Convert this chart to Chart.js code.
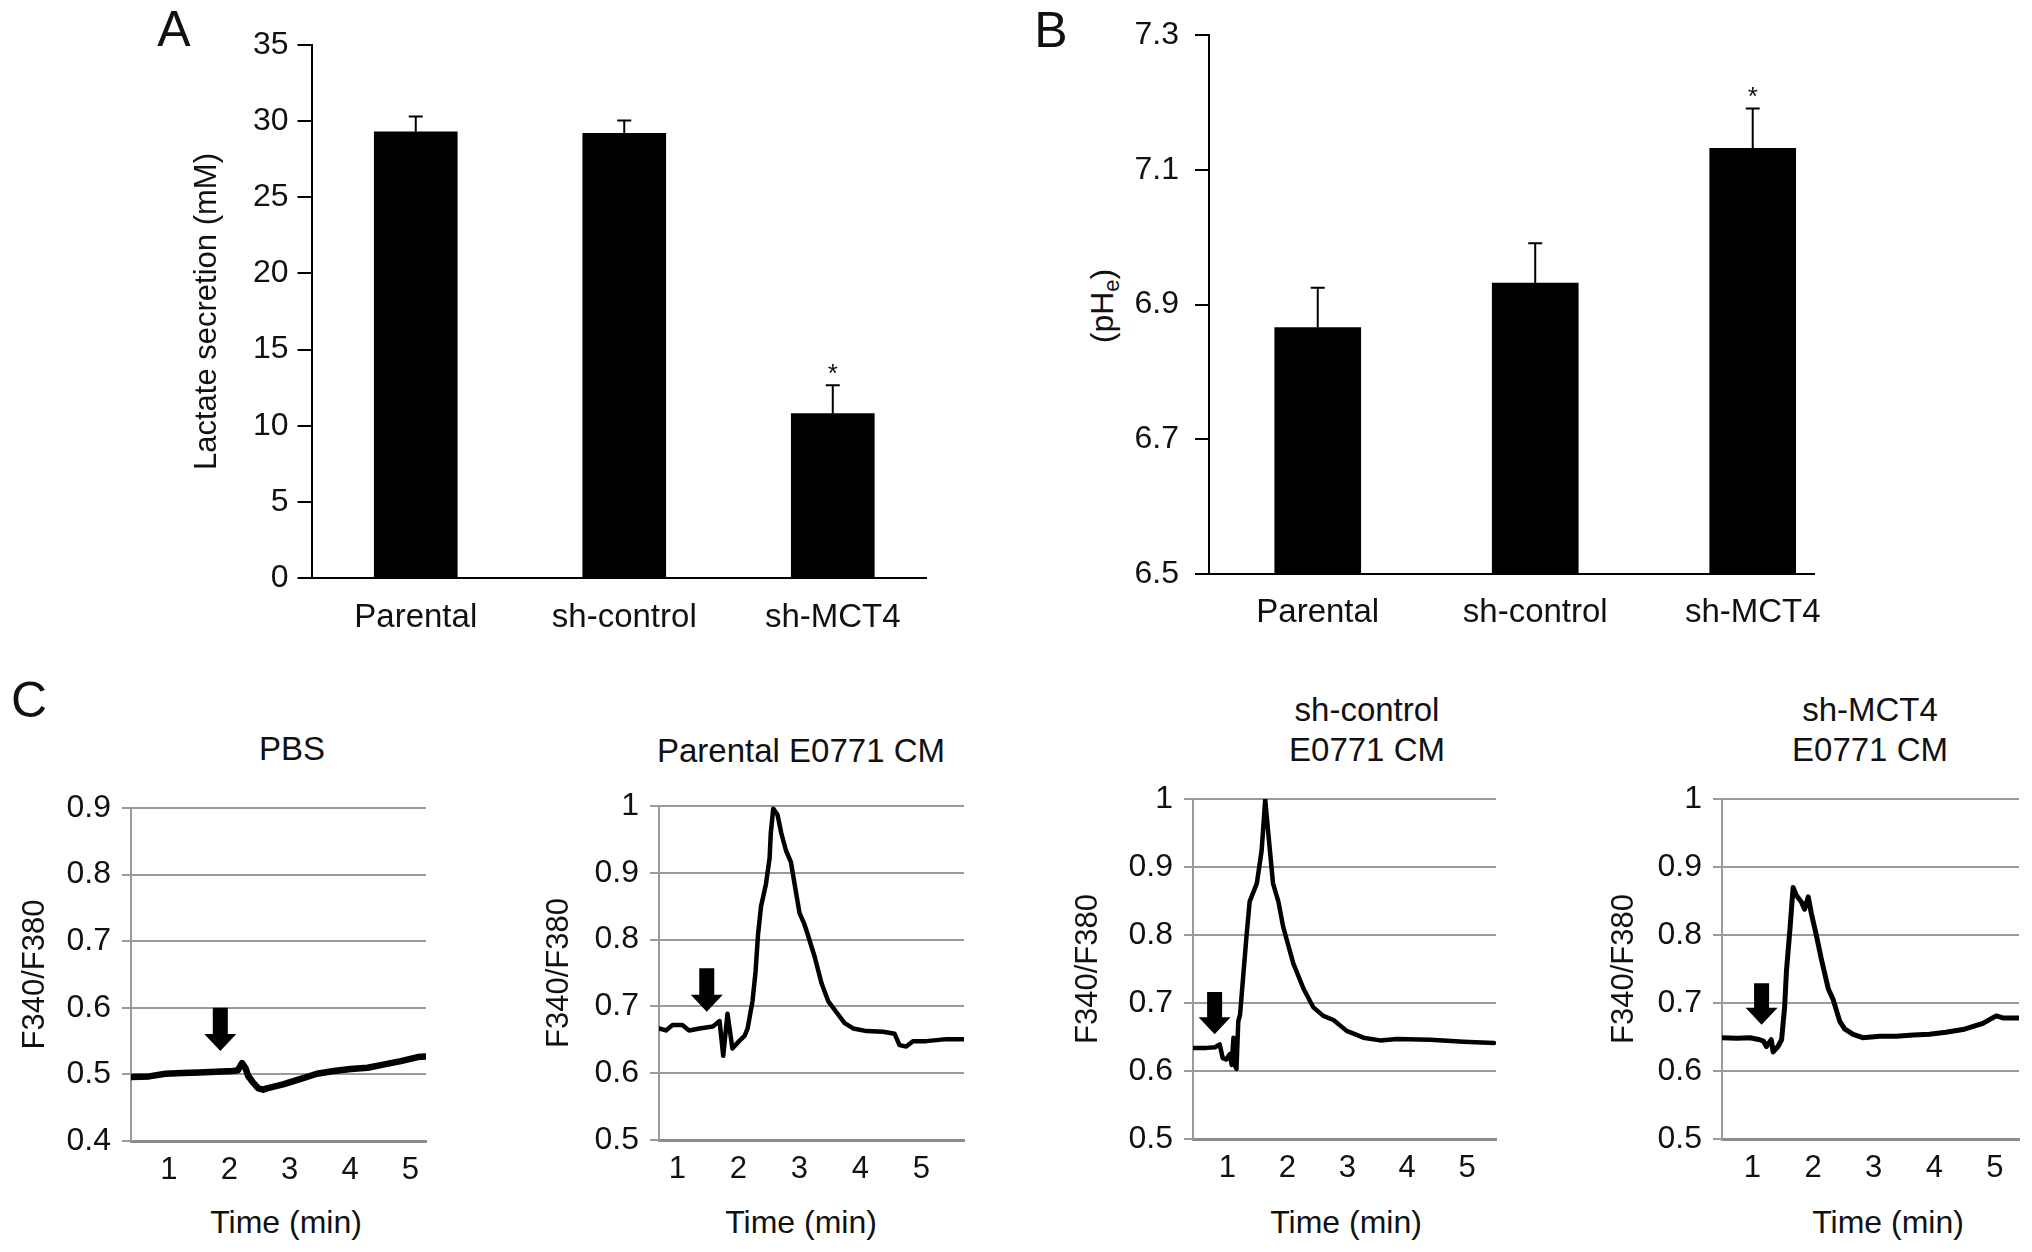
<!DOCTYPE html>
<html>
<head>
<meta charset="utf-8">
<script src="https://cdn.jsdelivr.net/npm/chart.js@4.4.0/dist/chart.umd.min.js"></script>
<style>
html,body{margin:0;padding:0;background:#fff;}
#page{position:relative;width:2032px;height:1252px;overflow:hidden;background:#fff;font-family:"Liberation Sans",Arial,Helvetica,sans-serif;color:#111;}
#page canvas{position:absolute;left:0;top:0;}
.lbl{position:absolute;transform:translate(-50%,-50%);white-space:nowrap;line-height:1;}
.panel{font-size:50px;}
.ttl{font-size:33px;}
.xt{font-size:32px;}
.rot{transform:translate(-50%,-50%) rotate(-90deg);font-size:32px;}
.rot sub{font-size:22px;vertical-align:-6px;}
</style>
</head>
<body>
<div id="page">
  <div class="lbl panel" style="left:174px;top:29px;">A</div>
  <div class="lbl panel" style="left:1051px;top:30px;">B</div>
  <div class="lbl panel" style="left:29px;top:700px;">C</div>
  <div class="lbl rot" style="left:1104px;top:306px;">(pH<sub>e</sub>)</div>
  <div class="lbl ttl" style="left:292px;top:748px;">PBS</div>
  <div class="lbl ttl" style="left:801px;top:750px;">Parental E0771 CM</div>
  <div class="lbl ttl" style="left:1367px;top:709px;">sh-control</div>
  <div class="lbl ttl" style="left:1367px;top:749px;">E0771 CM</div>
  <div class="lbl ttl" style="left:1870px;top:709px;">sh-MCT4</div>
  <div class="lbl ttl" style="left:1870px;top:749px;">E0771 CM</div>
  <div class="lbl xt" style="left:286px;top:1222px;">Time (min)</div>
  <div class="lbl xt" style="left:801px;top:1222px;">Time (min)</div>
  <div class="lbl xt" style="left:1346px;top:1222px;">Time (min)</div>
  <div class="lbl xt" style="left:1888px;top:1222px;">Time (min)</div>
</div>
<script>
// ---------------- DATA ----------------
const groups = ['Parental', 'sh-control', 'sh-MCT4'];
const lactateMean = [29.3, 29.2, 10.8];
const lactateErr = [1.0, 0.85, 1.85];
const lactateTicks = [0, 5, 10, 15, 20, 25, 30, 35];
const pheMean = [6.866, 6.932, 7.132];
const pheErr = [0.059, 0.059, 0.059];
const pheTicks = [6.5, 6.7, 6.9, 7.1, 7.3];
const significance = ['', '', '*'];

const timeTicks = [1, 2, 3, 4, 5];
const pbsTicks = [0.4, 0.5, 0.6, 0.7, 0.8, 0.9];
const cmTicks = [0.5, 0.6, 0.7, 0.8, 0.9, 1];

const pbsTime = [0.37, 0.67, 0.94, 1.22, 1.50, 1.78, 2.06, 2.14, 2.21, 2.27, 2.31, 2.39, 2.48, 2.56, 2.62, 2.89, 3.17, 3.45, 3.73, 4.01, 4.29, 4.57, 4.84, 5.12, 5.25];
const pbsRatio = [0.496, 0.497, 0.501, 0.502, 0.503, 0.504, 0.505, 0.506, 0.517, 0.509, 0.498, 0.488, 0.479, 0.477, 0.479, 0.485, 0.493, 0.501, 0.505, 0.508, 0.510, 0.515, 0.520, 0.526, 0.527];

const parentalTime = [0.70, 0.81, 0.92, 1.08, 1.19, 1.36, 1.58, 1.69, 1.75, 1.82, 1.90, 2.01, 2.10, 2.15, 2.23, 2.28, 2.32, 2.37, 2.45, 2.51, 2.53, 2.57, 2.64, 2.70, 2.78, 2.86, 2.92, 3.00, 3.08, 3.12, 3.25, 3.36, 3.47, 3.60, 3.74, 3.88, 4.10, 4.37, 4.56, 4.64, 4.75, 4.86, 5.08, 5.41, 5.69];
const parentalRatio = [0.667, 0.664, 0.672, 0.672, 0.664, 0.667, 0.670, 0.678, 0.626, 0.689, 0.637, 0.648, 0.656, 0.667, 0.708, 0.752, 0.807, 0.850, 0.883, 0.922, 0.960, 0.996, 0.987, 0.960, 0.933, 0.916, 0.883, 0.840, 0.823, 0.812, 0.774, 0.735, 0.708, 0.692, 0.675, 0.667, 0.663, 0.662, 0.659, 0.642, 0.640, 0.648, 0.648, 0.651, 0.651];

const shControlTime = [0.43, 0.65, 0.79, 0.87, 0.92, 0.98, 1.04, 1.07, 1.10, 1.12, 1.15, 1.18, 1.21, 1.26, 1.32, 1.37, 1.49, 1.57, 1.63, 1.68, 1.76, 1.85, 1.93, 2.10, 2.27, 2.43, 2.60, 2.77, 2.99, 3.27, 3.55, 3.83, 4.39, 4.94, 5.45];
const shControlRatio = [0.634, 0.634, 0.635, 0.639, 0.619, 0.617, 0.625, 0.609, 0.649, 0.609, 0.603, 0.673, 0.683, 0.737, 0.801, 0.849, 0.876, 0.924, 0.999, 0.951, 0.876, 0.849, 0.812, 0.758, 0.721, 0.694, 0.681, 0.675, 0.659, 0.649, 0.645, 0.647, 0.646, 0.643, 0.641];

const shMCT4Time = [0.50, 0.74, 0.96, 1.12, 1.18, 1.23, 1.31, 1.34, 1.42, 1.48, 1.53, 1.56, 1.62, 1.67, 1.72, 1.81, 1.86, 1.92, 1.97, 2.05, 2.14, 2.25, 2.33, 2.44, 2.52, 2.66, 2.82, 3.10, 3.37, 3.65, 3.92, 4.19, 4.47, 4.80, 5.02, 5.13, 5.39];
const shMCT4Ratio = [0.649, 0.648, 0.649, 0.646, 0.644, 0.636, 0.646, 0.628, 0.636, 0.646, 0.694, 0.747, 0.811, 0.870, 0.859, 0.848, 0.838, 0.856, 0.832, 0.801, 0.763, 0.721, 0.705, 0.673, 0.662, 0.654, 0.649, 0.651, 0.651, 0.653, 0.654, 0.657, 0.661, 0.670, 0.681, 0.678, 0.678];

// arrow annotations (time, ratio at arrow top, ratio at arrow tip)
const arrowTime = [1.85, 1.48, 0.785, 1.15];
const arrowTop = [0.600, 0.757, 0.716, 0.729];
const arrowTip = [0.535, 0.692, 0.654, 0.668];

// ---------------- RENDERING ----------------
const FONT = '"Liberation Sans", Arial, Helvetica, sans-serif';
const W = 2032, H = 1252;
const TXT = '#111';

function mkCanvas() {
  const c = document.createElement('canvas');
  c.width = W; c.height = H;
  c.style.width = W + 'px'; c.style.height = H + 'px';
  document.getElementById('page').appendChild(c);
  return c;
}
function padFor(f) {
  return {left: f.L - f.yW, top: f.T, right: W - f.R, bottom: H - f.B - f.xH};
}
function fmt1(v) { return String(Math.round(v * 10) / 10); }

const errorBarPlugin = {
  id: 'errorBars',
  afterDatasetsDraw(chart, args, o) {
    const ctx = chart.ctx, meta = chart.getDatasetMeta(0), ys = chart.scales.y;
    const ds = chart.data.datasets[0].data;
    ctx.save();
    ctx.strokeStyle = '#000';
    ctx.lineWidth = o.lineWidth;
    meta.data.forEach((bar, i) => {
      const top = ys.getPixelForValue(ds[i].y + o.err[i]);
      ctx.beginPath();
      ctx.moveTo(bar.x, bar.y);
      ctx.lineTo(bar.x, top);
      ctx.moveTo(bar.x - o.cap / 2, top);
      ctx.lineTo(bar.x + o.cap / 2, top);
      ctx.stroke();
      if (o.sig[i]) {
        ctx.fillStyle = TXT;
        ctx.font = o.sigSize + 'px ' + FONT;
        ctx.textAlign = 'center';
        ctx.textBaseline = 'alphabetic';
        ctx.fillText(o.sig[i], bar.x, top - o.sigGap + o.sigSize * 0.57);
      }
    });
    ctx.restore();
  }
};

const arrowPlugin = {
  id: 'arrowMark',
  afterDatasetsDraw(chart, args, o) {
    const xs = chart.scales.x, ys = chart.scales.y, ctx = chart.ctx;
    const cx = xs.getPixelForValue(o.x);
    const top = ys.getPixelForValue(o.yTop);
    const tip = ys.getPixelForValue(o.yTip);
    const hw = o.headWidth / 2, sw = o.shaftWidth / 2, hb = tip - o.headHeight;
    ctx.save();
    ctx.fillStyle = '#000';
    ctx.beginPath();
    ctx.moveTo(cx - sw, top);
    ctx.lineTo(cx + sw, top);
    ctx.lineTo(cx + sw, hb);
    ctx.lineTo(cx + hw, hb);
    ctx.lineTo(cx, tip);
    ctx.lineTo(cx - hw, hb);
    ctx.lineTo(cx - sw, hb);
    ctx.closePath();
    ctx.fill();
    ctx.restore();
  }
};

function barChart(spec) {
  const f = spec.frame;
  new Chart(mkCanvas(), {
    type: 'bar',
    data: {datasets: [{
      data: groups.map((g, i) => ({x: i + 1, y: spec.mean[i]})),
      backgroundColor: '#000', borderWidth: 0, barThickness: spec.barWidth
    }]},
    options: {
      responsive: false, animation: false, events: [],
      layout: {padding: padFor(f)},
      plugins: {
        legend: {display: false}, tooltip: {enabled: false},
        errorBars: {err: spec.err, sig: significance, cap: 14, lineWidth: 2, sigSize: 26, sigGap: 18}
      },
      scales: {
        x: {
          type: 'linear', min: spec.xMin, max: spec.xMax, offset: false,
          afterBuildTicks: s => { s.ticks = groups.map((g, i) => ({value: i + 1})); },
          ticks: {callback: v => groups[v - 1], font: {family: FONT, size: 33}, color: TXT,
                  padding: spec.xLabelPad, maxRotation: 0, autoSkip: false},
          grid: {display: false, drawTicks: false, offset: false},
          border: {display: true, color: '#000', width: 2},
          afterFit: s => { s.height = f.xH; }
        },
        y: {
          min: spec.yTicks[0], max: spec.yTicks[spec.yTicks.length - 1],
          afterBuildTicks: s => { s.ticks = spec.yTicks.map(v => ({value: v})); },
          ticks: {callback: spec.yFmt, font: {family: FONT, size: 32}, color: TXT, padding: spec.yLabelPad},
          grid: {drawOnChartArea: false, drawTicks: true, tickLength: 14, color: '#000', lineWidth: 2},
          border: {display: true, color: '#000', width: 2},
          title: spec.yTitle ? {display: true, text: spec.yTitle, font: {family: FONT, size: 31}, color: TXT, padding: 0} : {display: false},
          afterFit: s => { s.width = f.yW; }
        }
      }
    },
    plugins: [errorBarPlugin]
  });
}

function lineChart(spec) {
  const f = spec.frame;
  new Chart(mkCanvas(), {
    type: 'line',
    data: {datasets: [{
      data: spec.time.map((t, i) => ({x: t, y: spec.ratio[i]})),
      borderColor: '#000', borderWidth: spec.lineWidth, pointRadius: 0,
      tension: 0, fill: false, borderJoinStyle: 'round', borderCapStyle: 'round'
    }]},
    options: {
      responsive: false, animation: false, events: [],
      layout: {padding: padFor(f)},
      plugins: {
        legend: {display: false}, tooltip: {enabled: false},
        arrowMark: {x: arrowTime[spec.k], yTop: arrowTop[spec.k], yTip: arrowTip[spec.k],
                    shaftWidth: 15, headWidth: 32, headHeight: 17}
      },
      scales: {
        x: {
          type: 'linear', min: spec.xMin, max: spec.xMax,
          afterBuildTicks: s => { s.ticks = timeTicks.map(v => ({value: v})); },
          ticks: {callback: v => String(v), font: {family: FONT, size: 31}, color: TXT, padding: 11, maxRotation: 0, autoSkip: false},
          grid: {display: false, drawTicks: false},
          border: {display: true, color: '#8c8c8c', width: 3},
          afterFit: s => { s.height = f.xH; }
        },
        y: {
          min: spec.yTicks[0], max: spec.yTicks[spec.yTicks.length - 1],
          afterBuildTicks: s => { s.ticks = spec.yTicks.map(v => ({value: v})); },
          ticks: {callback: fmt1, font: {family: FONT, size: 32}, color: TXT, padding: 11},
          grid: {color: '#9a9a9a', lineWidth: 2, drawTicks: true, tickLength: 9},
          border: {display: true, color: '#9a9a9a', width: 2},
          title: {display: true, text: 'F340/F380', font: {family: FONT, size: 31}, color: TXT, padding: 0},
          afterFit: s => { s.width = f.yW; }
        }
      }
    },
    plugins: [arrowPlugin]
  });
}

// Panel A
barChart({
  frame: {L: 311.5, T: 45, R: 926.6, B: 578, yW: 123.1, xH: 60},
  mean: lactateMean, err: lactateErr, yTicks: lactateTicks, yFmt: v => String(v),
  xMin: 0.5, xMax: 3.45, barWidth: 83, xLabelPad: 20, yLabelPad: 9,
  yTitle: 'Lactate secretion (mM)'
});
// Panel B
barChart({
  frame: {L: 1209, T: 29, R: 1814.7, B: 574, yW: 100, xH: 60},
  mean: pheMean, err: pheErr, yTicks: pheTicks, yFmt: v => v.toFixed(1),
  xMin: 0.5, xMax: 3.285, barWidth: 86, xLabelPad: 19, yLabelPad: 16,
  yTitle: null
});
// Panel C
const xBoxBottom = 1242;
lineChart({k: 0, time: pbsTime, ratio: pbsRatio, yTicks: pbsTicks, lineWidth: 6.5,
  frame: {L: 131, T: 808, R: 426, B: 1141, yW: 114.6, xH: xBoxBottom - 1141}, xMin: 0.371, xMax: 5.257});
lineChart({k: 1, time: parentalTime, ratio: parentalRatio, yTicks: cmTicks, lineWidth: 4.5,
  frame: {L: 659, T: 806, R: 964, B: 1140, yW: 118.6, xH: xBoxBottom - 1140}, xMin: 0.697, xMax: 5.697});
lineChart({k: 2, time: shControlTime, ratio: shControlRatio, yTicks: cmTicks, lineWidth: 4.5,
  frame: {L: 1193, T: 799, R: 1496, B: 1139, yW: 123.6, xH: xBoxBottom - 1139}, xMin: 0.424, xMax: 5.484});
lineChart({k: 3, time: shMCT4Time, ratio: shMCT4Ratio, yTicks: cmTicks, lineWidth: 5,
  frame: {L: 1722, T: 799, R: 2019, B: 1139, yW: 116.6, xH: xBoxBottom - 1139}, xMin: 0.497, xMax: 5.396});
</script>
</body>
</html>
